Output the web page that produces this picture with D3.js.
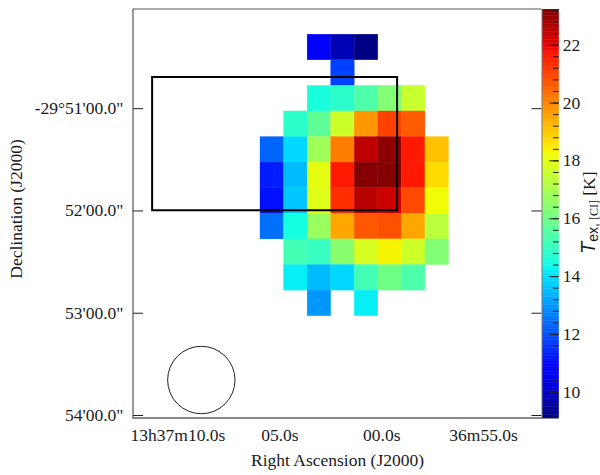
<!DOCTYPE html>
<html><head><meta charset="utf-8">
<script src="https://cdn.jsdelivr.net/npm/d3@7"></script>
<style>html,body{margin:0;padding:0;background:#fff}svg{display:block}text{font-family:"Liberation Serif",serif;fill:#1a1a1a}</style>
</head><body><svg id="c" width="600" height="475"></svg>
<script>
const tex=[
 [null,null,10.7,9.8,9.2,null,null,null],
 [null,null,null,11.8,null,null,null,null],
 [null,null,14.5,14.8,15.4,16.3,17.5,null],
 [null,14.8,15.7,17.6,19.7,21.0,20.6,null],
 [12.3,13.9,16.8,20.1,22.5,23.07,21.6,19.1],
 [11.3,13.5,18.0,21.6,23.2,23.2,21.6,18.7],
 [11.1,13.65,17.9,21.3,22.55,22.3,20.9,18.2],
 [12.45,14.45,16.7,19.5,20.7,20.8,19.5,17.3],
 [null,15.2,15.0,16.4,17.75,18.3,17.6,16.3],
 [null,14.2,13.5,13.9,15.2,16.0,15.4,null],
 [null,null,13.0,null,14.2,null,null,null]
];
const decTicks=[1,2,3,4];
const decLabels=["-29°51'00.0\"","52'00.0\"","53'00.0\"","54'00.0\""];
const raTicks=[0,1,2,3];
const raLabels=["13h37m10.0s","05.0s","00.0s","36m55.0s"];
const cbTicks=[10,12,14,16,18,20,22];
const cbMinor=d3.range(9.2,23.3,0.4).map(v=>+v.toFixed(1));
const vMin=9.13,vMax=23.25;
const boxDec=[0.69,1.993],boxRa=[-0.254,2.151];
const beamCenter={ra:0.229,dec:3.653};

const jet=d3.scaleLinear().domain([0,.11,.125,.34,.35,.375,.64,.66,.89,.91,1])
 .range([[0,0,.5],[0,0,1],[0,0,1],[0,.86,1],[0,.9,1],[.08,1,.887],[.935,1,.032],[1,.926,0],[1,.074,0],[.909,0,0],[.5,0,0]].map(c=>d3.rgb(c[0]*255,c[1]*255,c[2]*255)))
 .interpolate(d3.interpolateRgb);
const norm=d3.scaleLinear().domain([vMin,vMax]).range([0,1]).clamp(true);
const col=v=>jet(norm(v));

const P={l:133,r:541.5,t:9,b:417};
const FS=17.5;
const svg=d3.select("#c");
const xCell=d3.scaleLinear().domain([0,8]).range([260,448.5]);
const yCell=d3.scaleLinear().domain([0,12]).range([34.2,341.3]);
const yDec=d3.scaleLinear().domain([1,4]).range([108.7,415.5]);
const xRa=d3.scaleLinear().domain([0,3]).range([178,483.6]);

const cells=[];
tex.forEach((r,i)=>r.forEach((v,j)=>{if(v!==null)cells.push({i,j,v})}));
svg.append("g").selectAll("rect").data(cells).join("rect")
 .attr("x",d=>xCell(d.j)).attr("y",d=>yCell(d.i))
 .attr("width",xCell(1)-xCell(0)).attr("height",yCell(1)-yCell(0))
 .attr("fill",d=>col(d.v)).attr("stroke",d=>col(d.v)).attr("stroke-width",.3);

svg.append("rect").attr("x",xRa(boxRa[0])).attr("y",yDec(boxDec[0]))
 .attr("width",xRa(boxRa[1])-xRa(boxRa[0]))
 .attr("height",yDec(boxDec[1])-yDec(boxDec[0])).attr("fill","none").attr("stroke","#000").attr("stroke-width",2);
svg.append("circle").attr("cx",xRa(beamCenter.ra)).attr("cy",yDec(beamCenter.dec)).attr("r",33.7)
 .attr("fill","none").attr("stroke","#222").attr("stroke-width",1);

// frame
svg.append("line").attr("x1",P.l).attr("x2",P.l).attr("y1",P.t).attr("y2",P.b).attr("stroke","#777").attr("stroke-width",1.5);
svg.append("line").attr("x1",P.l).attr("x2",P.r).attr("y1",P.t).attr("y2",P.t).attr("stroke","#555").attr("stroke-width",1);
svg.append("line").attr("x1",P.l-1).attr("x2",558.5).attr("y1",418).attr("y2",418).attr("stroke","#111").attr("stroke-width",1);

// dec ticks
const yg=svg.append("g");
yg.selectAll("line.l").data(decTicks).join("line").attr("class","l").attr("x1",P.l).attr("x2",P.l+10).attr("y1",d=>yDec(d)).attr("y2",d=>yDec(d)).attr("stroke","#222");
yg.selectAll("line.r").data(decTicks).join("line").attr("class","r").attr("x1",P.r-10).attr("x2",P.r).attr("y1",d=>yDec(d)).attr("y2",d=>yDec(d)).attr("stroke","#222");
yg.selectAll("text").data(decTicks).join("text").attr("x",123.5).attr("y",d=>yDec(d)+5.5).attr("text-anchor","end").attr("font-size",FS).text((d,i)=>decLabels[i]);
// ra labels
svg.append("g").selectAll("text").data(raTicks).join("text").attr("x",d=>xRa(d)).attr("y",440.5).attr("text-anchor","middle").attr("font-size",FS).text((d,i)=>raLabels[i]);
svg.append("text").attr("x",337.5).attr("y",466).attr("text-anchor","middle").attr("font-size",FS).text("Right Ascension (J2000)");
svg.append("text").attr("transform","translate(22,209) rotate(-90)").attr("text-anchor","middle").attr("font-size",FS).text("Declination (J2000)");

// colorbar
const yCb=d3.scaleLinear().domain([vMin,vMax]).range([417.5,9]);
const step=(vMax-vMin)/256;
const cbSteps=d3.range(vMin,vMax,step);
svg.append("g").selectAll("rect").data(cbSteps).join("rect").attr("x",542).attr("width",16.8)
 .attr("y",d=>yCb(d+step)).attr("height",d=>yCb(d)-yCb(d+step)+.4).attr("fill",d=>col(d));
svg.append("line").attr("x1",542).attr("x2",542).attr("y1",9).attr("y2",418).attr("stroke","#777").attr("stroke-width",1);
const cg=svg.append("g");
cg.selectAll("line.mi").data(cbMinor).join("line").attr("class","mi").attr("x1",553).attr("x2",558.8).attr("y1",d=>yCb(d)).attr("y2",d=>yCb(d)).attr("stroke","#222");
cg.selectAll("line.ma").data(cbTicks).join("line").attr("class","ma").attr("x1",549.3).attr("x2",558.8).attr("y1",d=>yCb(d)).attr("y2",d=>yCb(d)).attr("stroke","#222");
cg.selectAll("text").data(cbTicks).join("text").attr("x",562.7).attr("y",d=>yCb(d)+5.5).attr("font-size",FS).text(d=>d);
const lab=svg.append("text").attr("transform","translate(595,254) rotate(-90)").attr("font-size",FS);
lab.append("tspan").attr("font-style","italic").style("font-family","'Liberation Sans',sans-serif").attr("font-size",20).text("T");
lab.append("tspan").attr("dy",3).attr("font-size",14).style("font-family","'Liberation Sans',sans-serif").text("ex,");
lab.append("tspan").attr("font-size",12).text(" [CI]");
lab.append("tspan").attr("dy",-3).text(" [K]");
</script></body></html>
